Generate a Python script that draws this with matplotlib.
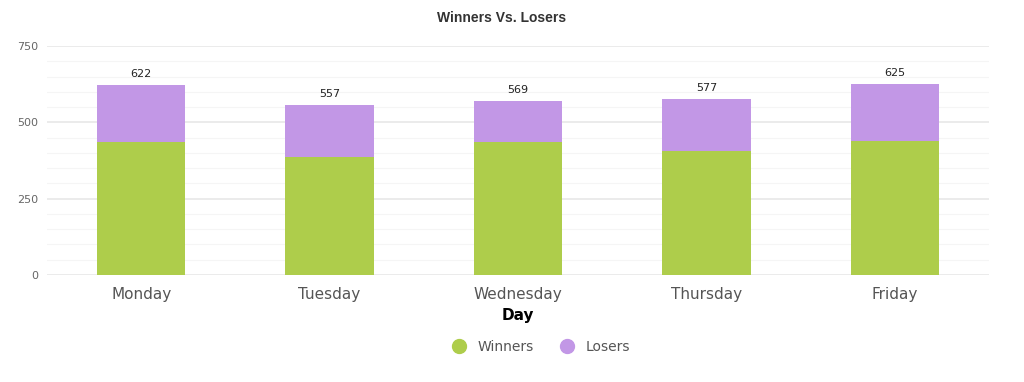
import matplotlib.pyplot as plt
import numpy as np
from matplotlib.lines import Line2D

days = ["Monday", "Tuesday", "Wednesday", "Thursday", "Friday"]
winners = [435, 385, 435, 405, 440]
losers = [187, 172, 134, 172, 185]
totals = [622, 557, 569, 577, 625]

green = "#aecd4b"
purple = "#c297e6"

fig = plt.figure(figsize=(10.24, 3.82), dpi=100)
ax = fig.add_axes([47 / 1024, 1 - 275 / 382, (989 - 47) / 1024, (275 - 46) / 382])

x = np.arange(len(days))
ax.bar(x, winners, width=0.47, color=green, zorder=3)
ax.bar(x, losers, width=0.47, bottom=winners, color=purple, zorder=3)
for xi, t in zip(x, totals):
    ax.text(xi, t + 20, str(t), ha="center", va="bottom", fontsize=8, color="#222222")

ax.set_xlim(-0.5, len(days) - 0.5)
ax.set_ylim(0, 750)
ax.set_yticks([0, 250, 500, 750])
ax.set_yticks(np.arange(0, 751, 50), minor=True)
ax.grid(axis="y", which="major", color="#e8e8e8", lw=1.2, zorder=0)
ax.grid(axis="y", which="minor", color="#f5f5f5", lw=0.8, zorder=0)
for s in ax.spines.values():
    s.set_visible(False)
ax.tick_params(axis="both", which="both", length=0)
ax.tick_params(axis="y", labelsize=8, labelcolor="#666666", pad=6)
ax.set_xticks(x)
ax.set_xticklabels(days, fontsize=11, color="#555555")
ax.tick_params(axis="x", pad=9)
ax.set_xlabel("Day", fontsize=11, fontweight="bold", labelpad=4)

fig.text(0.49, 1 - 18 / 382, "Winners Vs. Losers", ha="center", va="center",
         fontsize=10, fontweight="bold", color="#333333", family="Liberation Sans")

handles = [Line2D([], [], marker="o", ls="", color=green, markersize=10),
           Line2D([], [], marker="o", ls="", color=purple, markersize=10)]
leg = fig.legend(handles, ["Winners", "Losers"], loc="center", bbox_to_anchor=(0.525, 1 - 347 / 382),
                 ncol=2, frameon=False, fontsize=10, handletextpad=0.3, columnspacing=1.4)
for t in leg.get_texts():
    t.set_color("#555555")

fig.savefig("out.png", dpi=100)
